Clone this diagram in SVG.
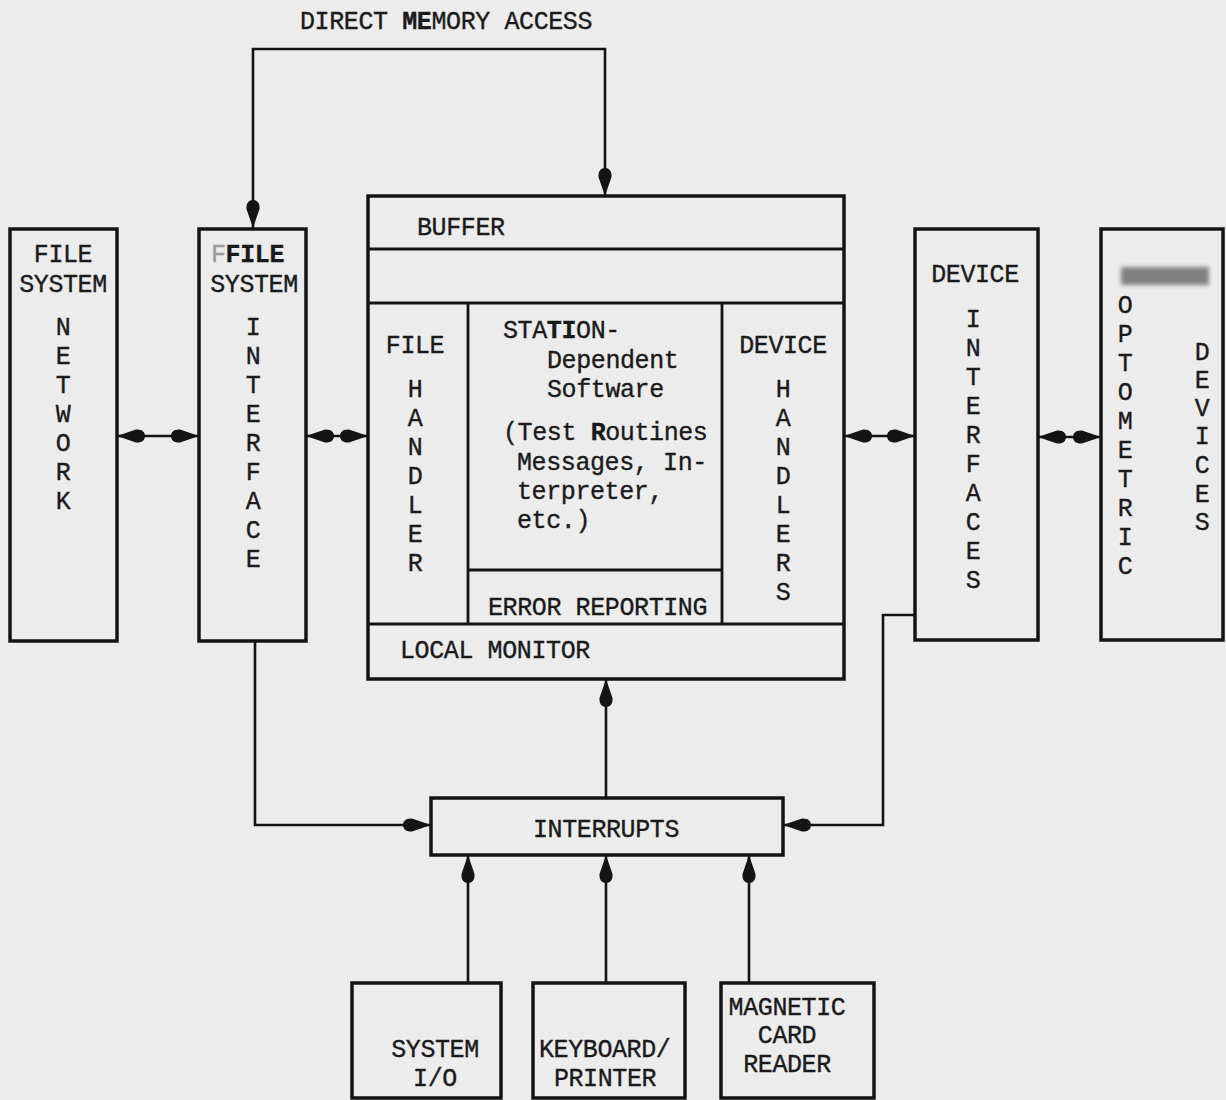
<svg xmlns="http://www.w3.org/2000/svg" width="1226" height="1100" viewBox="0 0 1226 1100">
<defs>
<style>
.bx{fill:none;stroke:#141414;stroke-width:3.5}
.dv{fill:none;stroke:#141414;stroke-width:2.8}
.cn{fill:none;stroke:#141414;stroke-width:2.6}
.t{font-family:"Liberation Mono","DejaVu Sans Mono",monospace;font-size:25px;letter-spacing:-0.4px;fill:#1a1a1a;stroke:#1a1a1a;stroke-width:0.35}
.c{text-anchor:middle}
.b{font-weight:bold}
</style>
<marker id="ah" viewBox="0 -7 28 14" refX="28" refY="0" markerWidth="28" markerHeight="14" markerUnits="userSpaceOnUse" orient="auto-start-reverse">
<path d="M28,0 L9,-6.5 C3,-7 0,-4 0,0 C0,4 3,7 9,6.5 Z" fill="#141414"/>
</marker>
<filter id="blur" x="-20%" y="-50%" width="140%" height="200%"><feGaussianBlur stdDeviation="2"/></filter>
</defs>
<rect width="1226" height="1100" fill="#ececec"/>

<text class="t" x="300" y="29">DIRECT <tspan class="b">ME</tspan>MORY ACCESS</text>

<g id="connectors">
<polyline class="cn" points="253,228 253,49 605,49 605,196" marker-start="url(#ah)" marker-end="url(#ah)"/>
<line class="cn" x1="117" y1="436" x2="199" y2="436" marker-start="url(#ah)" marker-end="url(#ah)"/>
<line class="cn" x1="306" y1="436" x2="368" y2="436" marker-start="url(#ah)" marker-end="url(#ah)"/>
<line class="cn" x1="844" y1="436" x2="915" y2="436" marker-start="url(#ah)" marker-end="url(#ah)"/>
<line class="cn" x1="1038" y1="437" x2="1101" y2="437" marker-start="url(#ah)" marker-end="url(#ah)"/>
<polyline class="cn" points="255,641 255,825 431,825" marker-end="url(#ah)"/>
<polyline class="cn" points="915,615 883,615 883,825 783,825" marker-end="url(#ah)"/>
<line class="cn" x1="606" y1="798" x2="606" y2="679" marker-end="url(#ah)"/>
<line class="cn" x1="468" y1="983" x2="468" y2="855" marker-end="url(#ah)"/>
<line class="cn" x1="606" y1="983" x2="606" y2="855" marker-end="url(#ah)"/>
<line class="cn" x1="749" y1="983" x2="749" y2="855" marker-end="url(#ah)"/>
</g>

<g id="file-system-network">
<rect class="bx" x="10" y="229" width="107" height="412"/>
<text class="t c" x="63" y="262">FILE</text>
<text class="t c" x="63" y="292">SYSTEM</text>
<text class="t c"><tspan x="63" y="335">N</tspan><tspan x="63" y="364">E</tspan><tspan x="63" y="393">T</tspan><tspan x="63" y="422">W</tspan><tspan x="63" y="451">O</tspan><tspan x="63" y="480">R</tspan><tspan x="63" y="509">K</tspan></text>
</g>

<g id="file-system-interface">
<rect class="bx" x="199" y="229" width="107" height="412"/>
<text class="t" x="211" y="262"><tspan fill="#9a9a9a" stroke="#9a9a9a">F</tspan><tspan class="b">FILE</tspan></text>
<text class="t c" x="254" y="292">SYSTEM</text>
<text class="t c"><tspan x="253" y="335">I</tspan><tspan x="253" y="364">N</tspan><tspan x="253" y="393">T</tspan><tspan x="253" y="422">E</tspan><tspan x="253" y="451">R</tspan><tspan x="253" y="480">F</tspan><tspan x="253" y="509">A</tspan><tspan x="253" y="538">C</tspan><tspan x="253" y="567">E</tspan></text>
</g>

<g id="station-software">
<rect class="bx" x="368" y="196" width="476" height="483"/>
<line class="dv" x1="368" y1="249" x2="844" y2="249"/>
<line class="dv" x1="368" y1="303" x2="844" y2="303"/>
<line class="dv" x1="468" y1="303" x2="468" y2="624"/>
<line class="dv" x1="722" y1="303" x2="722" y2="624"/>
<line class="dv" x1="468" y1="570" x2="722" y2="570"/>
<line class="dv" x1="368" y1="624" x2="844" y2="624"/>
<text class="t" x="417" y="235">BUFFER</text>
<text class="t c" x="415" y="353">FILE</text>
<text class="t c"><tspan x="415" y="397">H</tspan><tspan x="415" y="426">A</tspan><tspan x="415" y="455">N</tspan><tspan x="415" y="484">D</tspan><tspan x="415" y="513">L</tspan><tspan x="415" y="542">E</tspan><tspan x="415" y="571">R</tspan></text>
<text class="t" x="503" y="338">STA<tspan class="b">TI</tspan>ON-</text>
<text class="t" x="547" y="368">Dependent</text>
<text class="t" x="547" y="397">Software</text>
<text class="t" x="503" y="440">(Test <tspan class="b">R</tspan>outines</text>
<text class="t" x="517" y="470">Messages, In-</text>
<text class="t" x="517" y="499">terpreter,</text>
<text class="t" x="517" y="528">etc.)</text>
<text class="t" x="488" y="615">ERROR REPORTING</text>
<text class="t c" x="783" y="353">DEVICE</text>
<text class="t c"><tspan x="783" y="397">H</tspan><tspan x="783" y="426">A</tspan><tspan x="783" y="455">N</tspan><tspan x="783" y="484">D</tspan><tspan x="783" y="513">L</tspan><tspan x="783" y="542">E</tspan><tspan x="783" y="571">R</tspan><tspan x="783" y="600">S</tspan></text>
<text class="t" x="400" y="658">LOCAL MONITOR</text>
</g>

<g id="device-interfaces">
<rect class="bx" x="915" y="229" width="123" height="411"/>
<text class="t c" x="975" y="282">DEVICE</text>
<text class="t c"><tspan x="973" y="327">I</tspan><tspan x="973" y="356">N</tspan><tspan x="973" y="385">T</tspan><tspan x="973" y="414">E</tspan><tspan x="973" y="443">R</tspan><tspan x="973" y="472">F</tspan><tspan x="973" y="501">A</tspan><tspan x="973" y="530">C</tspan><tspan x="973" y="559">E</tspan><tspan x="973" y="588">S</tspan></text>
</g>

<g id="optometric-devices">
<rect class="bx" x="1101" y="229" width="122" height="411"/>
<rect x="1121" y="267" width="88" height="18" fill="#6e6e6e" filter="url(#blur)" opacity="0.85"/>
<text class="t c"><tspan x="1125" y="313">O</tspan><tspan x="1125" y="342">P</tspan><tspan x="1125" y="371">T</tspan><tspan x="1125" y="400">O</tspan><tspan x="1125" y="429">M</tspan><tspan x="1125" y="458">E</tspan><tspan x="1125" y="487">T</tspan><tspan x="1125" y="516">R</tspan><tspan x="1125" y="545">I</tspan><tspan x="1125" y="574">C</tspan></text>
<text class="t c"><tspan x="1202" y="360">D</tspan><tspan x="1202" y="388">E</tspan><tspan x="1202" y="416">V</tspan><tspan x="1202" y="444">I</tspan><tspan x="1202" y="473">C</tspan><tspan x="1202" y="502">E</tspan><tspan x="1202" y="530">S</tspan></text>
</g>

<g id="interrupts">
<rect class="bx" x="431" y="798" width="352" height="57"/>
<text class="t c" x="606" y="837">INTERRUPTS</text>
</g>

<g id="system-io">
<rect class="bx" x="352" y="983" width="149" height="115"/>
<text class="t c" x="435" y="1057">SYSTEM</text>
<text class="t c" x="435" y="1086">I/O</text>
</g>

<g id="keyboard-printer">
<rect class="bx" x="533" y="983" width="152" height="115"/>
<text class="t" x="539" y="1057">KEYBOARD/</text>
<text class="t c" x="605" y="1086">PRINTER</text>
</g>

<g id="magnetic-card-reader">
<rect class="bx" x="721" y="983" width="153" height="115"/>
<text class="t c" x="787" y="1015">MAGNETIC</text>
<text class="t c" x="787" y="1043">CARD</text>
<text class="t c" x="787" y="1072">READER</text>
</g>
</svg>
